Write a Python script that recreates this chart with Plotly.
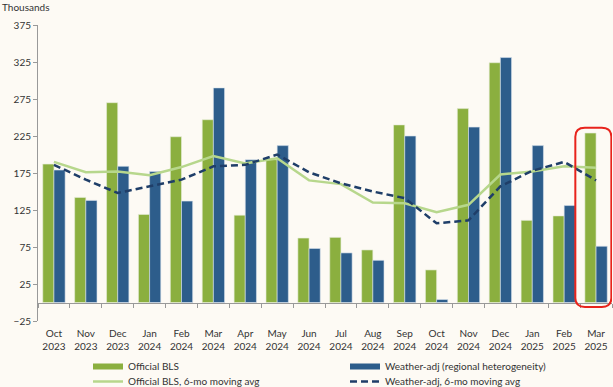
import plotly.graph_objects as go

months = ["Oct<br>2023", "Nov<br>2023", "Dec<br>2023", "Jan<br>2024", "Feb<br>2024", "Mar<br>2024",
          "Apr<br>2024", "May<br>2024", "Jun<br>2024", "Jul<br>2024", "Aug<br>2024", "Sep<br>2024",
          "Oct<br>2024", "Nov<br>2024", "Dec<br>2024", "Jan<br>2025", "Feb<br>2025", "Mar<br>2025"]
official_bls = [187, 142, 270, 119, 224, 247, 118, 193, 87, 88, 71, 240, 44, 262, 324, 111, 117, 229]
weather_adj = [179, 138, 184, 177, 137, 290, 193, 212, 73, 67, 57, 225, 4, 237, 331, 212, 131, 76]
official_ma = [190, 176, 177, 172, 183, 198, 188, 195, 165, 160, 135, 134, 122, 132, 173, 177, 184, 182]
weather_ma = [186, 166, 148, 157, 166, 184, 186, 200, 176, 161, 150, 141, 107, 111, 157, 178, 190, 165]
y_ticks = [-25, 25, 75, 125, 175, 225, 275, 325, 375]

x = list(range(len(months)))
GREEN = "#8BAF3F"
BLUE = "#2D5D8B"
LGREEN = "#B7D78C"
NAVY = "#1F3E68"
BG = "#FDFAF4"
FONT = "Lato"
DASH = "7px,4px"

fig = go.Figure()
fig.add_trace(go.Bar(x=x, y=official_bls, name="Official BLS", showlegend=False,
                     marker=dict(color=GREEN, line=dict(color="#E6EDD8", width=0.6))))
fig.add_trace(go.Bar(x=x, y=weather_adj, name="Weather-adj (regional heterogeneity)", showlegend=False,
                     marker=dict(color=BLUE, line=dict(color="#D9E2EC", width=0.6))))
fig.add_trace(go.Scatter(x=x, y=official_ma, name="Official BLS, 6-mo moving avg", mode="lines",
                         showlegend=False, line=dict(color=LGREEN, width=2.5)))
fig.add_trace(go.Scatter(x=x, y=weather_ma, name="Weather-adj, 6-mo moving avg", mode="lines",
                         showlegend=False, line=dict(color=NAVY, width=2.5, dash=DASH)))

# legend entries (wide swatches like the reference)
fig.add_trace(go.Scatter(x=[None], y=[None], mode="lines", name="Official BLS", legend="legend",
                         line=dict(color=GREEN, width=6)))
fig.add_trace(go.Scatter(x=[None], y=[None], mode="lines", name="Weather-adj (regional heterogeneity)", legend="legend",
                         line=dict(color=BLUE, width=6)))
fig.add_trace(go.Scatter(x=[None], y=[None], mode="lines", name="Official BLS, 6-mo moving avg", legend="legend2",
                         line=dict(color=LGREEN, width=2.5)))
fig.add_trace(go.Scatter(x=[None], y=[None], mode="lines", name="Weather-adj, 6-mo moving avg", legend="legend2",
                         line=dict(color=NAVY, width=2.5, dash=DASH)))

# rounded highlight box around last month
last = len(months) - 1
x0, x1 = last - 0.65, last + 0.48
y0, y1 = -6, 236
rx, ry = 0.3, 12
path = (f"M {x0+rx},{y1} L {x1-rx},{y1} Q {x1},{y1} {x1},{y1-ry} L {x1},{y0+ry} "
        f"Q {x1},{y0} {x1-rx},{y0} L {x0+rx},{y0} Q {x0},{y0} {x0},{y0+ry} "
        f"L {x0},{y1-ry} Q {x0},{y1} {x0+rx},{y1} Z")
fig.add_shape(type="path", path=path, xref="x", yref="y", line=dict(color="#E8231C", width=2))

fig.add_annotation(text="Thousands", xref="paper", yref="paper", x=-0.066, y=1.0, yshift=18,
                   xanchor="left", yanchor="middle", showarrow=False, font=dict(size=10, color="#333", family=FONT))

legend_common = dict(orientation="h", xref="container", yref="container", x=88 / 613,
                     xanchor="left", yanchor="top", entrywidth=212, entrywidthmode="pixels", itemwidth=30,
                     font=dict(size=10, color="#333"), bgcolor="rgba(0,0,0,0)", tracegroupgap=0)

fig.update_layout(
    width=613, height=387,
    margin=dict(l=38, r=1, t=25, b=66),
    paper_bgcolor=BG, plot_bgcolor=BG,
    barmode="group", bargap=0.3, bargroupgap=0,
    font=dict(family=FONT, size=10, color="#333"),
    showlegend=True,
    legend=dict(y=(387 - 352) / 387, **legend_common),
    legend2=dict(y=(387 - 367) / 387, **legend_common),
)
fig.update_xaxes(range=[-0.5, len(months) - 0.5], tickvals=x, ticktext=months, ticks="",
                 showgrid=False, showline=True, linecolor="#999", linewidth=1, automargin=False,
                 anchor="free", position=25 / 400, ticklabelstandoff=21,
                 minor=dict(tickvals=[i - 0.5 for i in range(len(months) + 1)], ticks="outside", ticklen=4, tickcolor="#999", showgrid=False),
                 zeroline=False, tickfont=dict(size=10))
fig.update_yaxes(range=[-25, 375], tickvals=y_ticks, ticks="outside", ticklen=4, tickcolor="#999",
                 showgrid=False, showline=True, linecolor="#999", linewidth=1, zeroline=False, automargin=False,
                 tickfont=dict(size=10))

fig.write_html("out.html", config={"displayModeBar": False},
               post_script="document.body.style.margin='0';document.body.style.background='#FDFAF4';")
